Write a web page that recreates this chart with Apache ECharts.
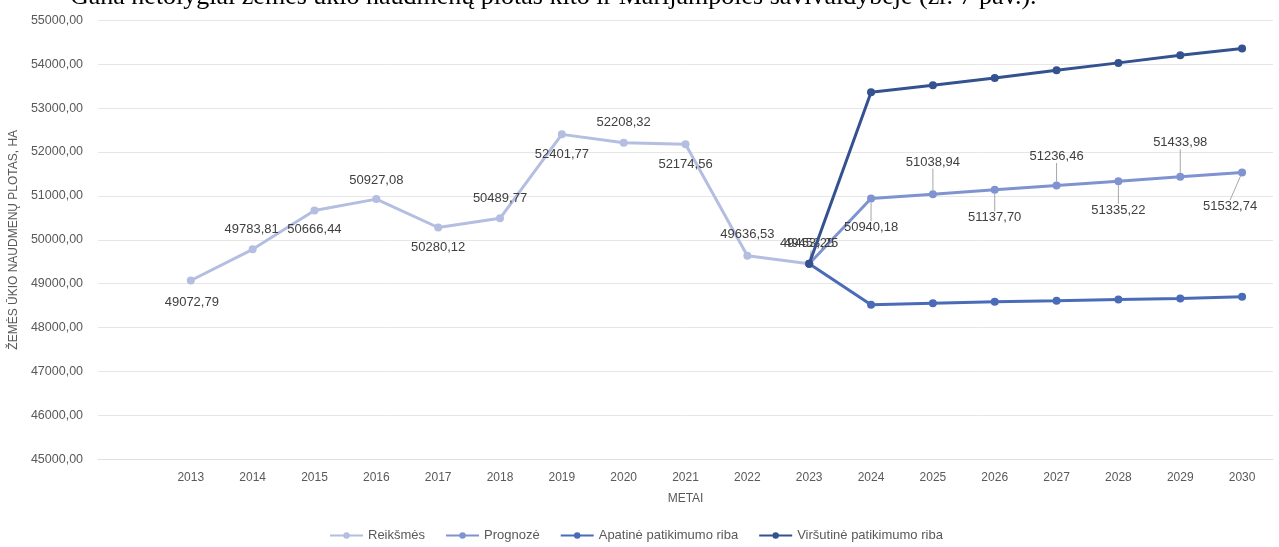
<!DOCTYPE html>
<html>
<head>
<meta charset="utf-8">
<script src="https://cdn.jsdelivr.net/npm/echarts@6/dist/echarts.min.js"></script>
<style>
html,body{margin:0;padding:0;background:#fff;}
#chart{width:1279px;height:547px;}
</style>
</head>
<body>
<div id="chart"></div>
<script>
const categories = ['', '2013','2014','2015','2016','2017','2018','2019','2020','2021','2022','2023','2024','2025','2026','2027','2028','2029','2030'];
const actual = [null, 49072.79, 49783.81, 50666.44, 50927.08, 50280.12, 50489.77, 52401.77, 52208.32, 52174.56, 49636.53, 49453.25, null, null, null, null, null, null, null];
const forecast = [null, null, null, null, null, null, null, null, null, null, null, 49453.25, 50940.18, 51038.94, 51137.70, 51236.46, 51335.22, 51433.98, 51532.74];
const lowerBound = [null, null, null, null, null, null, null, null, null, null, null, 49453.25, 48520, 48555, 48590, 48612, 48640, 48665, 48705];
const upperBound = [null, null, null, null, null, null, null, null, null, null, null, 49453.25, 53360, 53523, 53685, 53861, 54030, 54203, 54360];
const seriesNames = ['Reikšmės', 'Prognozė', 'Apatinė patikimumo riba', 'Viršutinė patikimumo riba'];
const yTicks = {min: 45000, max: 55000, step: 1000};

// label offsets (dx, dy) from the point centre, per data index
const actualOffsets = {1:[1,22],2:[-1,-20],3:[0,19],4:[0,-19],5:[0,20],6:[0,-20],7:[0,20],8:[0,-20],9:[0,20],10:[0,-21],11:[-2,-20]};
const forecastOffsets = {11:[2,-20],12:[0,29],13:[0,-32],14:[0,28],15:[0,-29],16:[0,29],17:[0,-34],18:[-12,34]};

const fmt = v => v.toFixed(2).replace('.', ',');
const colors = ['#b4bee0', '#7f93d0', '#4a6bb8', '#34528f'];

const chart = echarts.init(document.getElementById('chart'), null, {renderer: 'canvas'});

function mkLayout(offsets) {
  return function (p) {
    const o = offsets[p.dataIndex];
    if (!o) return {};
    const cx = p.rect.x + p.rect.width / 2;
    const cy = p.rect.y + p.rect.height / 2;
    return {x: cx + o[0], y: cy + o[1], align: 'center', verticalAlign: 'middle'};
  };
}

const labelStyle = {show: true, position: 'inside', color: '#404040', fontSize: 13, fontFamily: 'Liberation Sans', formatter: p => fmt(p.value)};

chart.setOption({
  animation: false,
  color: colors,
  textStyle: {fontFamily: 'Liberation Sans'},
  graphic: [{
    type: 'text', left: 70, top: -16,
    style: {text: 'Gana netolygiai žemės ūkio naudmenų plotas kito ir Marijampolės savivaldybėje (žr. 7 pav.).', font: '26px "Liberation Serif"', fill: '#000'}
  }],
  grid: {left: 96, right: 6, top: 20.3, bottom: 87.7, containLabel: false},
  legend: {
    bottom: 0, left: 324, itemWidth: 33, itemHeight: 8, itemGap: 20,
    textStyle: {color: '#595959', fontSize: 13},
    data: seriesNames
  },
  xAxis: {
    type: 'category', data: categories, boundaryGap: true,
    name: 'METAI', nameLocation: 'middle', nameGap: 33,
    nameTextStyle: {color: '#595959', fontSize: 12},
    axisLine: {show: true, lineStyle: {color: '#e0e0e0'}},
    axisTick: {show: false},
    axisLabel: {color: '#595959', fontSize: 12, margin: 12, interval: 0}
  },
  yAxis: {
    type: 'value', min: yTicks.min, max: yTicks.max, interval: yTicks.step,
    name: 'ŽEMĖS ŪKIO NAUDMENŲ PLOTAS, HA', nameLocation: 'middle', nameGap: 78,
    nameTextStyle: {color: '#595959', fontSize: 12},
    axisLine: {show: false}, axisTick: {show: false},
    axisLabel: {color: '#595959', fontSize: 12.5, margin: 15, formatter: v => fmt(v)},
    splitLine: {lineStyle: {color: '#e6e6e6', width: 1}}
  },
  series: [
    {name: seriesNames[0], type: 'line', data: actual, symbol: 'circle', symbolSize: 8, lineStyle: {width: 3}, z: 2,
     label: labelStyle, labelLayout: mkLayout(actualOffsets)},
    {name: seriesNames[1], type: 'line', data: forecast, symbol: 'circle', symbolSize: 8, lineStyle: {width: 3}, z: 3,
     label: labelStyle, labelLayout: mkLayout(forecastOffsets),
     labelLine: {show: true, lineStyle: {color: '#a6a6a6', width: 1}}},
    {name: seriesNames[2], type: 'line', data: lowerBound, symbol: 'circle', symbolSize: 8, lineStyle: {width: 3}, z: 4},
    {name: seriesNames[3], type: 'line', data: upperBound, symbol: 'circle', symbolSize: 8, lineStyle: {width: 3}, z: 5}
  ]
});
</script>
</body>
</html>
